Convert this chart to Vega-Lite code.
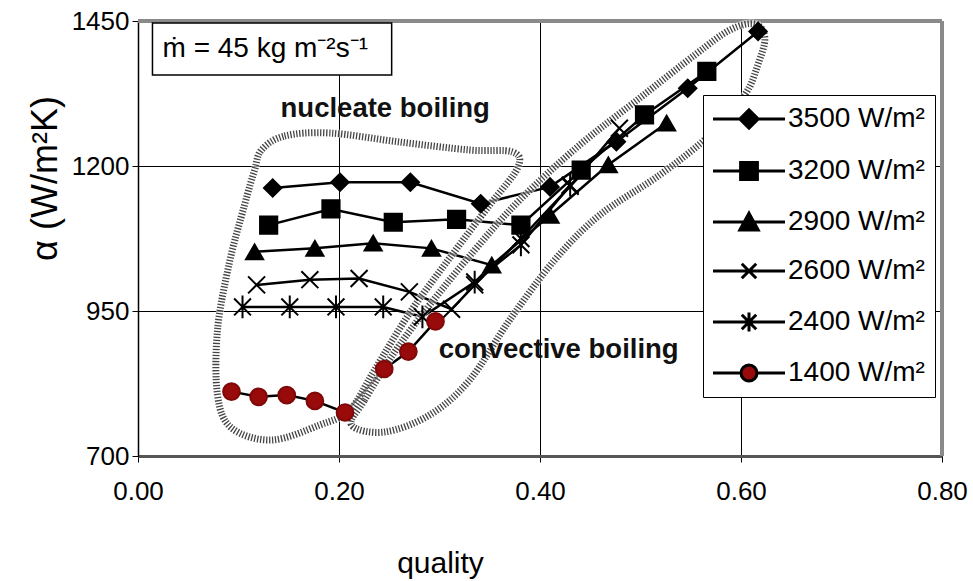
{
  "$schema": "https://vega.github.io/schema/vega-lite/v6.json",
  "width": 804,
  "height": 435,
  "autosize": "none",
  "padding": {"left": 138, "top": 21, "right": 31, "bottom": 125},
  "background": "white",
  "config": {
    "view": {"stroke": null},
    "font": "Liberation Sans",
    "axis": {"labelColor": "black", "titleColor": "black", "titleFontWeight": "normal", "tickColor": "black", "gridColor": "black", "gridOpacity": 1, "gridWidth": 1}
  },
  "datasets": {
    "series": [
      {"series": "3500 W/m²", "q": 0.134, "a": 1162}, {"series": "3500 W/m²", "q": 0.201, "a": 1172}, {"series": "3500 W/m²", "q": 0.271, "a": 1172}, {"series": "3500 W/m²", "q": 0.341, "a": 1135}, {"series": "3500 W/m²", "q": 0.410, "a": 1164}, {"series": "3500 W/m²", "q": 0.476, "a": 1242}, {"series": "3500 W/m²", "q": 0.547, "a": 1334}, {"series": "3500 W/m²", "q": 0.617, "a": 1432},
      {"series": "3200 W/m²", "q": 0.130, "a": 1098}, {"series": "3200 W/m²", "q": 0.192, "a": 1126}, {"series": "3200 W/m²", "q": 0.254, "a": 1103}, {"series": "3200 W/m²", "q": 0.317, "a": 1108}, {"series": "3200 W/m²", "q": 0.381, "a": 1098}, {"series": "3200 W/m²", "q": 0.441, "a": 1193}, {"series": "3200 W/m²", "q": 0.504, "a": 1288}, {"series": "3200 W/m²", "q": 0.566, "a": 1363},
      {"series": "2900 W/m²", "q": 0.116, "a": 1052}, {"series": "2900 W/m²", "q": 0.176, "a": 1058}, {"series": "2900 W/m²", "q": 0.234, "a": 1067}, {"series": "2900 W/m²", "q": 0.292, "a": 1058}, {"series": "2900 W/m²", "q": 0.352, "a": 1029}, {"series": "2900 W/m²", "q": 0.410, "a": 1115}, {"series": "2900 W/m²", "q": 0.468, "a": 1202}, {"series": "2900 W/m²", "q": 0.526, "a": 1274},
      {"series": "2600 W/m²", "q": 0.118, "a": 995}, {"series": "2600 W/m²", "q": 0.171, "a": 1004}, {"series": "2600 W/m²", "q": 0.220, "a": 1006}, {"series": "2600 W/m²", "q": 0.270, "a": 983}, {"series": "2600 W/m²", "q": 0.312, "a": 953}, {"series": "2600 W/m²", "q": 0.335, "a": 995}, {"series": "2600 W/m²", "q": 0.381, "a": 1075}, {"series": "2600 W/m²", "q": 0.430, "a": 1165}, {"series": "2600 W/m²", "q": 0.479, "a": 1265},
      {"series": "2400 W/m²", "q": 0.104, "a": 957}, {"series": "2400 W/m²", "q": 0.151, "a": 957}, {"series": "2400 W/m²", "q": 0.197, "a": 957}, {"series": "2400 W/m²", "q": 0.244, "a": 957}, {"series": "2400 W/m²", "q": 0.283, "a": 940}, {"series": "2400 W/m²", "q": 0.335, "a": 1000}, {"series": "2400 W/m²", "q": 0.381, "a": 1064}, {"series": "2400 W/m²", "q": 0.430, "a": 1167},
      {"series": "1400 W/m²", "q": 0.093, "a": 811}, {"series": "1400 W/m²", "q": 0.120, "a": 802}, {"series": "1400 W/m²", "q": 0.148, "a": 805}, {"series": "1400 W/m²", "q": 0.176, "a": 795}, {"series": "1400 W/m²", "q": 0.206, "a": 775}, {"series": "1400 W/m²", "q": 0.245, "a": 850}, {"series": "1400 W/m²", "q": 0.269, "a": 880}, {"series": "1400 W/m²", "q": 0.296, "a": 932}
    ],
    "regions": [
      {"region": "nucleate", "i": 1, "q": 0.1229, "a": 1227.6}, {"region": "nucleate", "i": 2, "q": 0.1458, "a": 1251.7}, {"region": "nucleate", "i": 3, "q": 0.1906, "a": 1256.9}, {"region": "nucleate", "i": 4, "q": 0.2603, "a": 1241.4}, {"region": "nucleate", "i": 5, "q": 0.3300, "a": 1227.6}, {"region": "nucleate", "i": 6, "q": 0.3728, "a": 1224.1}, {"region": "nucleate", "i": 7, "q": 0.3777, "a": 1196.6}, {"region": "nucleate", "i": 8, "q": 0.3499, "a": 1132.8}, {"region": "nucleate", "i": 9, "q": 0.3101, "a": 1041.4}, {"region": "nucleate", "i": 10, "q": 0.2703, "a": 946.6}, {"region": "nucleate", "i": 11, "q": 0.2354, "a": 848.3}, {"region": "nucleate", "i": 12, "q": 0.2106, "a": 779.3}, {"region": "nucleate", "i": 13, "q": 0.1807, "a": 753.4}, {"region": "nucleate", "i": 14, "q": 0.1329, "a": 727.6}, {"region": "nucleate", "i": 15, "q": 0.0931, "a": 748.3}, {"region": "nucleate", "i": 16, "q": 0.0791, "a": 805.2}, {"region": "nucleate", "i": 17, "q": 0.0791, "a": 917.2}, {"region": "nucleate", "i": 18, "q": 0.0911, "a": 1034.5}, {"region": "nucleate", "i": 19, "q": 0.1060, "a": 1132.8}, {"region": "nucleate", "i": 20, "q": 0.1160, "a": 1193.1},
      {"region": "convective", "i": 1, "q": 0.2125, "a": 753.4}, {"region": "convective", "i": 2, "q": 0.2255, "a": 796.6}, {"region": "convective", "i": 3, "q": 0.2553, "a": 879.3}, {"region": "convective", "i": 4, "q": 0.2902, "a": 960.3}, {"region": "convective", "i": 5, "q": 0.3350, "a": 1055.2}, {"region": "convective", "i": 6, "q": 0.3798, "a": 1141.4}, {"region": "convective", "i": 7, "q": 0.4395, "a": 1236.2}, {"region": "convective", "i": 8, "q": 0.4993, "a": 1317.2}, {"region": "convective", "i": 9, "q": 0.5540, "a": 1391.4}, {"region": "convective", "i": 10, "q": 0.5889, "a": 1434.5}, {"region": "convective", "i": 11, "q": 0.6138, "a": 1444.8}, {"region": "convective", "i": 12, "q": 0.6237, "a": 1420.7}, {"region": "convective", "i": 13, "q": 0.6167, "a": 1374.1}, {"region": "convective", "i": 14, "q": 0.6037, "a": 1322.4}, {"region": "convective", "i": 15, "q": 0.5689, "a": 1253.4}, {"region": "convective", "i": 16, "q": 0.5191, "a": 1184.5}, {"region": "convective", "i": 17, "q": 0.4594, "a": 1115.5}, {"region": "convective", "i": 18, "q": 0.4146, "a": 1037.9}, {"region": "convective", "i": 19, "q": 0.3698, "a": 934.5}, {"region": "convective", "i": 20, "q": 0.3300, "a": 831.0}, {"region": "convective", "i": 21, "q": 0.2902, "a": 770.7}, {"region": "convective", "i": 22, "q": 0.2454, "a": 741.4}
    ]
  },
  "layer": [
    {
      "data": {"name": "series"},
      "mark": {"type": "line", "color": "black", "strokeWidth": 2.5},
      "encoding": {
        "x": {"field": "q", "type": "quantitative",
          "scale": {"domain": [0, 0.8], "nice": false, "zero": false},
          "axis": {"title": "quality", "values": [0, 0.2, 0.4, 0.6, 0.8], "format": ".2f", "labelFontSize": 26, "labelFlush": false, "labelOverlap": false, "labelPadding": 16, "tickSize": 6, "grid": true, "domainColor": "#555", "domainWidth": 3, "titleFontSize": 30, "titleX": 302, "titleY": 116, "titleBaseline": "alphabetic", "titleAlign": "center"}},
        "y": {"field": "a", "type": "quantitative",
          "scale": {"domain": [700, 1450], "nice": false, "zero": false},
          "axis": {"title": "α (W/m²K)", "values": [700, 950, 1200, 1450], "format": "d", "labelFontSize": 26, "labelPadding": 3, "tickSize": 6, "grid": true, "domainColor": "black", "domainWidth": 1.5, "titleFontSize": 36, "titleX": -93, "titleY": 157, "titleAngle": 270, "titleAlign": "center", "titleBaseline": "middle"}},
        "detail": {"field": "series", "type": "nominal"}
      }
    },
    {
      "data": {"values": [{}]},
      "mark": {"type": "rule", "color": "#8a8a8a", "strokeWidth": 4},
      "encoding": {"y": {"datum": 1450}}
    },
    {
      "data": {"values": [{}]},
      "mark": {"type": "rule", "color": "#8a8a8a", "strokeWidth": 4},
      "encoding": {"x": {"datum": 0.8}}
    },
    {
      "data": {"name": "regions"},
      "mark": {"type": "line", "interpolate": "cardinal-closed", "color": "white", "strokeWidth": 8, "opacity": 0.6},
      "encoding": {
        "x": {"field": "q", "type": "quantitative"},
        "y": {"field": "a", "type": "quantitative"},
        "detail": {"field": "region", "type": "nominal"},
        "order": {"field": "i", "type": "quantitative"}
      }
    },
    {
      "data": {"name": "regions"},
      "mark": {"type": "line", "interpolate": "cardinal-closed", "color": "#444", "strokeWidth": 7, "strokeDash": [1.3, 1.7]},
      "encoding": {
        "x": {"field": "q", "type": "quantitative"},
        "y": {"field": "a", "type": "quantitative"},
        "detail": {"field": "region", "type": "nominal"},
        "order": {"field": "i", "type": "quantitative"}
      }
    },
    {
      "data": {"name": "series"},
      "mark": {"type": "point", "filled": true, "strokeWidth": 2, "opacity": 1},
      "encoding": {
        "x": {"field": "q", "type": "quantitative"},
        "y": {"field": "a", "type": "quantitative"},
        "fill": {"field": "series", "type": "nominal",
          "scale": {"domain": ["3500 W/m²", "3200 W/m²", "2900 W/m²", "2600 W/m²", "2400 W/m²", "1400 W/m²"],
                    "range": ["black", "black", "black", "transparent", "transparent", "#990A0A"]},
          "legend": {
            "title": null, "orient": "none", "legendX": 565, "legendY": 74,
            "fillColor": "white", "strokeColor": "black", "padding": 10,
            "labelFontSize": 28, "labelColor": "black", "labelFont": "Liberation Sans",
            "symbolSize": 256, "symbolStrokeWidth": 3, "symbolOffset": 22, "labelOffset": 25, "rowPadding": 21,
            "symbolStrokeColor": "black",
            "symbolType": {"expr": "datum.value === '3500 W/m²' ? 'M-4.5,0L4.5,0M-1.15,0L0,-1.15L1.15,0L0,1.15Z' : datum.value === '3200 W/m²' ? 'M-4.5,0L4.5,0M-1.05,-1.05L1.05,-1.05L1.05,1.05L-1.05,1.05Z' : datum.value === '2900 W/m²' ? 'M-4.5,0L4.5,0M0,-1.1L1.15,1L-1.15,1Z' : datum.value === '2600 W/m²' ? 'M-4.5,0L4.5,0M-0.9,-0.9L0.9,0.9M-0.9,0.9L0.9,-0.9' : datum.value === '2400 W/m²' ? 'M-4.5,0L4.5,0M-0.9,-0.9L0.9,0.9M-0.9,0.9L0.9,-0.9M0,-1.2L0,1.2' : 'M-4.5,0L-1,0M1,0L4.5,0M1,0A1,1 0 1,1 -1,0A1,1 0 1,1 1,0Z'"},
            "encoding": {"symbols": {
              "fill": {"value": {"expr": "datum.value === '2600 W/m²' || datum.value === '2400 W/m²' ? 'transparent' : datum.value === '1400 W/m²' ? '#990A0A' : 'black'"}},
              "stroke": {"value": "black"},
              "strokeWidth": {"value": 3},
              "size": {"value": 256},
              "opacity": {"value": 1}
            }}
          }},
        "shape": {"field": "series", "type": "nominal", "legend": null,
          "scale": {"domain": ["1400 W/m²", "2400 W/m²", "2600 W/m²", "2900 W/m²", "3200 W/m²", "3500 W/m²"],
                    "range": ["circle", "M-1,-1L1,1M-1,1L1,-1M0,-1.35L0,1.35", "M-1,-1L1,1M-1,1L1,-1", "triangle-up", "square", "diamond"]}},
        "stroke": {"field": "series", "type": "nominal", "legend": null,
          "scale": {"domain": ["1400 W/m²", "2400 W/m²", "2600 W/m²", "2900 W/m²", "3200 W/m²", "3500 W/m²"],
                    "range": ["#800808", "black", "black", "black", "black", "black"]}},
        "size": {"field": "series", "type": "nominal", "legend": null,
          "scale": {"domain": ["1400 W/m²", "2400 W/m²", "2600 W/m²", "2900 W/m²", "3200 W/m²", "3500 W/m²"],
                    "range": [280, 300, 290, 400, 300, 380]}}
      }
    },
    {
      "data": {"values": [{}]},
      "mark": {"type": "rect", "fill": "white", "stroke": "black", "strokeWidth": 1.5},
      "encoding": {"x": {"datum": 0.0144}, "x2": {"datum": 0.2524}, "y": {"datum": 1446.6}, "y2": {"datum": 1357}}
    },
    {
      "data": {"values": [{}]},
      "mark": {"type": "text", "text": "ṁ = 45 kg m⁻²s⁻¹", "fontSize": 28, "align": "left", "baseline": "middle", "color": "black"},
      "encoding": {"x": {"datum": 0.0244}, "y": {"datum": 1402}}
    },
    {
      "data": {"values": [{}]},
      "mark": {"type": "text", "text": "nucleate boiling", "fontSize": 27.5, "fontWeight": "bold", "align": "center", "baseline": "middle", "color": "#111"},
      "encoding": {"x": {"datum": 0.246}, "y": {"datum": 1298}}
    },
    {
      "data": {"values": [{}]},
      "mark": {"type": "text", "text": "convective boiling", "fontSize": 27.5, "fontWeight": "bold", "align": "center", "baseline": "middle", "color": "#111"},
      "encoding": {"x": {"datum": 0.4186}, "y": {"datum": 883}}
    }
  ]
}
